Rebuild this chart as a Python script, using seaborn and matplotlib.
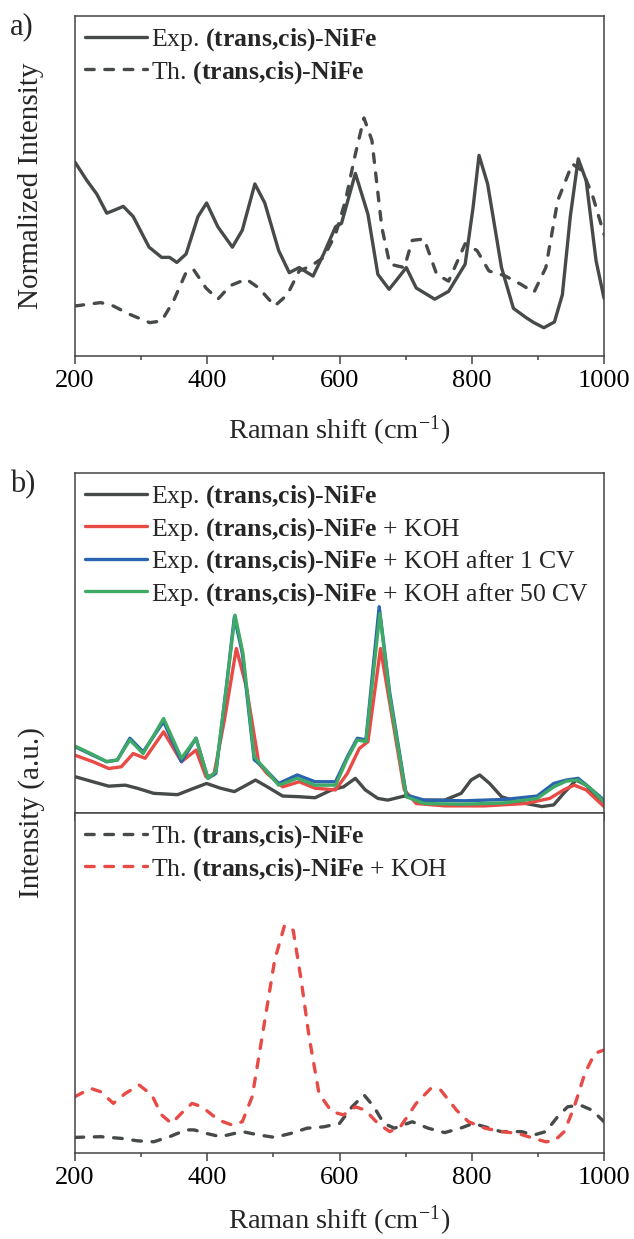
import numpy as np
import pandas as pd
import matplotlib
matplotlib.use('Agg')
import matplotlib.pyplot as plt
import seaborn as sns

# ---- panel a) readings (Raman shift, normalized intensity) ----
a_exp_x = [200, 218, 233, 248, 261, 273, 288, 312, 331, 343, 354, 368, 386, 399, 416, 438, 453, 472, 487,
           508, 524, 539, 560, 576, 594, 603, 624, 643, 658, 675, 689, 701, 716, 744, 765, 790, 802, 811,
           824, 845, 863, 882, 894, 909, 925, 937, 949, 961, 973, 988, 1000]
a_exp_y = [0.57, 0.516, 0.476, 0.42, 0.43, 0.44, 0.41, 0.32, 0.29, 0.29, 0.275, 0.30, 0.41, 0.45, 0.38, 0.32,
           0.37, 0.506, 0.45, 0.31, 0.245, 0.26, 0.235, 0.30, 0.38, 0.39, 0.537, 0.417, 0.24, 0.196, 0.23,
           0.26, 0.20, 0.167, 0.19, 0.27, 0.437, 0.59, 0.506, 0.26, 0.14, 0.113, 0.098, 0.083, 0.10, 0.18,
           0.41, 0.58, 0.516, 0.28, 0.17]

a_th_x = [200, 239, 258, 282, 313, 331, 349, 368, 379, 398, 416, 435, 459, 478, 502, 521, 539, 557, 576,
          594, 609, 624, 637, 649, 664, 676, 698, 710, 728, 747, 765, 790, 808, 826, 850, 875, 894, 912,
          930, 952, 967, 982, 1000]
a_th_y = [0.147, 0.157, 0.147, 0.123, 0.098, 0.103, 0.162, 0.246, 0.255, 0.20, 0.167, 0.207, 0.226, 0.20,
          0.147, 0.18, 0.25, 0.265, 0.29, 0.358, 0.457, 0.594, 0.70, 0.634, 0.378, 0.27, 0.26, 0.34, 0.344,
          0.24, 0.22, 0.33, 0.31, 0.25, 0.236, 0.21, 0.187, 0.26, 0.457, 0.565, 0.545, 0.476, 0.358]

# ---- panel b) top: experimental spectra ----
b_exp_x = [200, 227, 251, 276, 294, 319, 355, 380, 399, 420, 441, 459, 473, 490, 514, 539, 563, 588, 606,
           624, 639, 658, 673, 698, 722, 759, 784, 799, 812, 827, 845, 869, 906, 924, 939, 958, 973, 989, 1000]
b_exp_y = [0.107, 0.092, 0.079, 0.082, 0.073, 0.058, 0.054, 0.073, 0.087, 0.073, 0.063, 0.082, 0.097, 0.078,
           0.05, 0.048, 0.045, 0.068, 0.077, 0.102, 0.068, 0.043, 0.038, 0.05, 0.038, 0.038, 0.058, 0.097,
           0.112, 0.087, 0.048, 0.033, 0.019, 0.024, 0.058, 0.097, 0.082, 0.048, 0.033]

b_koh_x = [200, 227, 251, 270, 288, 306, 334, 361, 383, 398, 410, 426, 444, 459, 478, 490, 514, 539, 563,
           594, 612, 630, 643, 662, 676, 698, 716, 759, 820, 881, 918, 939, 955, 973, 1000]
b_koh_y = [0.17, 0.151, 0.131, 0.136, 0.175, 0.161, 0.239, 0.151, 0.185, 0.107, 0.112, 0.274, 0.484, 0.372,
           0.146, 0.117, 0.077, 0.092, 0.073, 0.068, 0.117, 0.19, 0.21, 0.484, 0.323, 0.068, 0.028, 0.021,
           0.021, 0.028, 0.043, 0.068, 0.082, 0.068, 0.019]

b_cv1_x = [200, 227, 248, 264, 283, 303, 334, 361, 383, 401, 413, 429, 441, 453, 471, 484, 508, 536, 563,
           594, 612, 627, 640, 660, 676, 701, 728, 789, 850, 899, 924, 943, 961, 979, 1000]
b_cv1_y = [0.195, 0.17, 0.151, 0.156, 0.22, 0.18, 0.269, 0.151, 0.22, 0.102, 0.117, 0.372, 0.577, 0.47,
           0.157, 0.136, 0.087, 0.112, 0.092, 0.092, 0.166, 0.22, 0.215, 0.607, 0.353, 0.053, 0.038, 0.036,
           0.04, 0.05, 0.087, 0.097, 0.102, 0.073, 0.038]

b_cv50_x = [200, 227, 248, 264, 283, 303, 334, 361, 383, 401, 413, 429, 442, 454, 471, 484, 508, 536, 563,
            594, 612, 627, 640, 661, 676, 701, 728, 789, 850, 899, 924, 943, 961, 979, 1000]
b_cv50_y = [0.197, 0.172, 0.151, 0.156, 0.215, 0.175, 0.278, 0.161, 0.22, 0.102, 0.122, 0.372, 0.582, 0.47,
            0.166, 0.136, 0.082, 0.102, 0.082, 0.082, 0.161, 0.215, 0.21, 0.587, 0.342, 0.048, 0.028, 0.026,
            0.03, 0.043, 0.077, 0.094, 0.097, 0.073, 0.033]

# ---- panel b) bottom: theoretical spectra ----
b_th_x = [200, 239, 270, 294, 319, 343, 368, 380, 398, 420, 453, 478, 502, 527, 551, 576, 600, 619, 637,
          652, 667, 683, 710, 734, 759, 783, 802, 820, 844, 875, 894, 912, 930, 945, 964, 982, 1000]
b_th_y = [0.046, 0.048, 0.043, 0.036, 0.033, 0.048, 0.068, 0.068, 0.058, 0.048, 0.063, 0.053, 0.046, 0.058,
          0.073, 0.077, 0.087, 0.136, 0.171, 0.136, 0.087, 0.073, 0.092, 0.073, 0.06, 0.073, 0.087, 0.077,
          0.063, 0.063, 0.053, 0.063, 0.107, 0.136, 0.141, 0.126, 0.092]

b_thkoh_x = [200, 224, 239, 258, 276, 297, 316, 331, 346, 361, 377, 392, 417, 438, 453, 468, 483, 502, 517,
             530, 542, 554, 569, 588, 606, 624, 639, 658, 676, 692, 716, 738, 753, 777, 795, 820, 844, 869,
             894, 912, 925, 940, 955, 971, 986, 1000]
b_thkoh_y = [0.166, 0.19, 0.18, 0.146, 0.175, 0.20, 0.171, 0.112, 0.087, 0.117, 0.146, 0.136, 0.097, 0.082,
             0.092, 0.166, 0.342, 0.568, 0.67, 0.655, 0.509, 0.342, 0.175, 0.122, 0.112, 0.136, 0.126, 0.087,
             0.063, 0.077, 0.146, 0.19, 0.185, 0.126, 0.092, 0.073, 0.063, 0.058, 0.043, 0.033, 0.036, 0.063,
             0.136, 0.234, 0.293, 0.303]

GRAY = '#464a48'
RED = '#e84a45'
BLUE = '#2a64ae'
GREEN = '#3eaa66'

sns.set_style('ticks')
plt.rcParams['font.family'] = ['Liberation Serif', 'DejaVu Serif']
plt.rcParams['mathtext.fontset'] = 'custom'
plt.rcParams['mathtext.rm'] = 'Liberation Serif'
plt.rcParams['mathtext.it'] = 'Liberation Serif:italic'
plt.rcParams['mathtext.bf'] = 'Liberation Serif:bold'
plt.rcParams['axes.edgecolor'] = '#444444'
plt.rcParams['axes.linewidth'] = 1.1

NAME = r'$\mathbf{(trans{,}cis)\text{-}NiFe}$'
LW = 2.4
DASH = (2.6, 3.2)

fig = plt.figure(figsize=(6.34, 12.39), dpi=100)
ax_a = fig.add_axes([0.1183, 0.7127, 0.8344, 0.2744])
ax_b1 = fig.add_axes([0.1183, 0.3438, 0.8344, 0.2744])
ax_b2 = fig.add_axes([0.1183, 0.0694, 0.8344, 0.2744])


def draw(ax, x, y, color, label, dashed=False):
    df = pd.DataFrame({'x': x, 'y': y})
    sns.lineplot(data=df, x='x', y='y', ax=ax, color=color, lw=LW, label=label,
                 estimator=None, sort=False)
    line = ax.get_lines()[-1]
    line.set_solid_capstyle('round')
    line.set_solid_joinstyle('round')
    if dashed:
        line.set_dashes(DASH)
        line.set_dash_capstyle('round')


draw(ax_a, a_exp_x, a_exp_y, GRAY, 'Exp. ' + NAME)
draw(ax_a, a_th_x, a_th_y, GRAY, 'Th. ' + NAME, dashed=True)

draw(ax_b1, b_exp_x, b_exp_y, GRAY, 'Exp. ' + NAME)
draw(ax_b1, b_koh_x, b_koh_y, RED, 'Exp. ' + NAME + ' + KOH')
draw(ax_b1, b_cv1_x, b_cv1_y, BLUE, 'Exp. ' + NAME + ' + KOH after 1 CV')
draw(ax_b1, b_cv50_x, b_cv50_y, GREEN, 'Exp. ' + NAME + ' + KOH after 50 CV')

draw(ax_b2, b_th_x, b_th_y, GRAY, 'Th. ' + NAME, dashed=True)
draw(ax_b2, b_thkoh_x, b_thkoh_y, RED, 'Th. ' + NAME + ' + KOH', dashed=True)

for ax in (ax_a, ax_b1, ax_b2):
    ax.set_xlim(200, 1000)
    ax.set_ylim(0, 1)
    ax.set_yticks([])
    ax.set_xticks([200, 400, 600, 800, 1000])
    ax.set_xticks([300, 500, 700, 900], minor=True)
    ax.tick_params(axis='x', which='major', direction='out', length=6, width=1.1,
                   labelsize=19, colors='#444444', labelcolor='black', pad=4)
    ax.tick_params(axis='x', which='minor', direction='out', length=3, width=1.1, colors='#444444')
    ax.set_ylabel('')
    ax.set_xlabel('')
    for s in ax.spines.values():
        s.set_visible(True)
    ax.legend(loc='upper left', frameon=False, fontsize=18.5, handlelength=2.4,
              handletextpad=0.15, labelspacing=0.22, borderaxespad=0.25, borderpad=0.15)

ax_b1.tick_params(axis='x', which='both', labelbottom=False)

xlab = r'Raman shift (cm$^{\mathregular{-1}}$)'
ax_a.set_xlabel(xlab, fontsize=20.5, labelpad=16)
ax_b2.set_xlabel(xlab, fontsize=20.5, labelpad=11)
ax_a.set_ylabel('Normalized Intensity', fontsize=21)
ax_a.yaxis.set_label_coords(-(75 - 44) / 529, 0.5)
fig.text(32 / 634, 1 - 813 / 1239, 'Intensity (a.u.)', rotation=90, fontsize=21,
         ha='center', va='center')

fig.text(10 / 634, 1 - 12 / 1239, 'a)', fontsize=22, ha='left', va='top')
fig.text(10 / 634, 1 - 470 / 1239, 'b)', fontsize=22, ha='left', va='top')

fig.savefig('out.png', dpi=100, facecolor='white')
